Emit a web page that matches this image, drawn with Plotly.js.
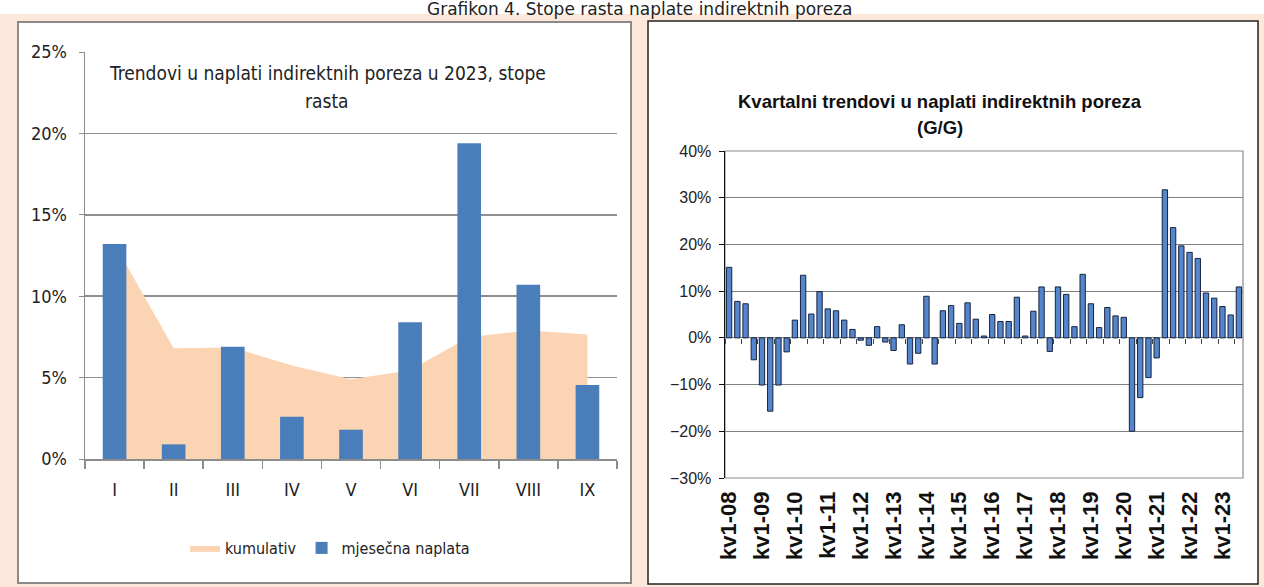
<!DOCTYPE html>
<html><head><meta charset="utf-8">
<script src="https://cdn.plot.ly/plotly-3.0.1.min.js"></script>
<style>html,body{margin:0;padding:0;background:#fff;overflow:hidden}#chart{width:1264px;height:587px}</style>
</head><body><div id="chart"></div>
<script>
// ---- Left chart data (2023, monthly) ----
const months = ["I","II","III","IV","V","VI","VII","VIII","IX"];
const monthlyCollection = [13.2, 0.9, 6.9, 2.6, 1.8, 8.4, 19.4, 10.7, 4.55];
const cumulative = [13.2, 6.8, 6.85, 5.75, 4.9, 5.45, 7.5, 7.9, 7.65];

// ---- Right chart data (quarterly, y/y) ----
const quarters = [
 "kv1-08","kv2-08","kv3-08","kv4-08","kv1-09","kv2-09","kv3-09","kv4-09",
 "kv1-10","kv2-10","kv3-10","kv4-10","kv1-11","kv2-11","kv3-11","kv4-11",
 "kv1-12","kv2-12","kv3-12","kv4-12","kv1-13","kv2-13","kv3-13","kv4-13",
 "kv1-14","kv2-14","kv3-14","kv4-14","kv1-15","kv2-15","kv3-15","kv4-15",
 "kv1-16","kv2-16","kv3-16","kv4-16","kv1-17","kv2-17","kv3-17","kv4-17",
 "kv1-18","kv2-18","kv3-18","kv4-18","kv1-19","kv2-19","kv3-19","kv4-19",
 "kv1-20","kv2-20","kv3-20","kv4-20","kv1-21","kv2-21","kv3-21","kv4-21",
 "kv1-22","kv2-22","kv3-22","kv4-22","kv1-23","kv2-23","kv3-23"];
const quarterly = [
 15.1, 7.8, 7.3, -4.7,  -10.1, -15.7, -10.1, -3.0,
 3.8, 13.4, 5.1, 9.9,   6.2, 5.8, 3.8, 1.8,
 -0.5, -1.6, 2.4, -0.9, -2.7, 2.8, -5.6, -3.3,
 8.9, -5.6, 5.8, 6.9,   3.1, 7.5, 4.0, 0.4,
 5.0, 3.5, 3.5, 8.7,    0.4, 5.7, 10.9, -2.9,
 10.9, 9.3, 2.4, 13.6,  7.3, 2.2, 6.5, 4.7,
 4.4, -20.0, -12.8, -8.5, -4.3, 31.7, 23.6, 19.7,
 18.3, 17.0, 9.6, 8.5,  6.7, 4.9, 10.9];
const quarterTickLabels = quarters.filter(q => q.startsWith("kv1"));

const pageTitle = "Grafikon 4. Stope rasta naplate indirektnih poreza";
const leftTitle1 = "Trendovi u naplati indirektnih poreza u 2023, stope";
const leftTitle2 = "rasta";
const rightTitle1 = "Kvartalni trendovi u naplati indirektnih poreza";
const rightTitle2 = "(G/G)";

const W = 1264, H = 587;
const px = x => x / W;
const py = y => 1 - y / H;

const NARROW = "DejaVu Sans Condensed, Liberation Sans Narrow, sans-serif";
const ARIAL = "Liberation Sans, Arial, sans-serif";

const rY0 = py(478), rY1 = py(151);
const zeroPos = rY0 + (0 - (-30)) / 70 * (rY1 - rY0);

const traces = [
  { type: "scatter", x: months, y: cumulative, name: "kumulativ",
    mode: "lines", fill: "tozeroy", fillcolor: "#FBD4B4",
    line: { width: 0, color: "#FBD4B4" }, xaxis: "x", yaxis: "y", hoverinfo: "x+y" },
  { type: "bar", x: months, y: monthlyCollection, name: "mjesečna naplata",
    marker: { color: "#4A7EBB" }, width: 0.4, xaxis: "x3", yaxis: "y3" },
  { type: "bar", x: quarters, y: quarterly, name: "kvartalno", showlegend: false,
    marker: { color: "#5586CC", line: { color: "#17233f", width: 1 } },
    xaxis: "x2", yaxis: "y2" },
  { type: "bar", x: quarters, y: quarterly, showlegend: false, hoverinfo: "skip",
    marker: { color: "rgba(0,0,0,0)" }, xaxis: "x4", yaxis: "y2" }
];

const layout = {
  width: W, height: H,
  margin: { l: 0, r: 0, t: 0, b: 0 },
  paper_bgcolor: "#ffffff",
  plot_bgcolor: "rgba(0,0,0,0)",
  showlegend: true,
  bargap: 0.35,
  legend: { orientation: "h", x: px(330), xanchor: "center", y: py(548), yanchor: "middle",
    font: { family: NARROW, size: 16, color: "#222" }, bgcolor: "rgba(0,0,0,0)",
    traceorder: "normal", itemwidth: 30 },
  xaxis: { domain: [px(85), px(617)], anchor: "y", type: "category", categoryarray: months,
    range: [-0.5, 8.5], showgrid: false, showline: true, linecolor: "#8c8c8c", linewidth: 1.5,
    ticks: "outside", tickson: "boundaries", ticklen: 8, tickcolor: "#8c8c8c", tickwidth: 1.5,
    tickfont: { family: NARROW, size: 18, color: "#222" }, ticklabelstandoff: 14, fixedrange: true },
  yaxis: { domain: [py(459), py(52)], anchor: "x", range: [0, 25], dtick: 5, ticksuffix: "%",
    showgrid: true, gridcolor: "#8f8f8f", gridwidth: 1.5, zeroline: false,
    showline: true, linecolor: "#8c8c8c", linewidth: 1.5, ticks: "outside", ticklen: 5,
    tickcolor: "#8c8c8c", tickfont: { family: NARROW, size: 18, color: "#222" },
    ticklabelstandoff: 8, fixedrange: true },
  xaxis3: { overlaying: "x", anchor: "y3", type: "category", categoryarray: months,
    range: [-0.5, 8.5], visible: false, fixedrange: true },
  yaxis3: { overlaying: "y", anchor: "x3", range: [0, 25], visible: false, fixedrange: true },

  xaxis2: { domain: [px(725), px(1243)], anchor: "y2", type: "category", categoryarray: quarters,
    range: [-0.5, 62.5], tickmode: "array", tickvals: quarterTickLabels, ticktext: quarterTickLabels,
    tickangle: -90, ticks: "", showgrid: false, showline: false, zeroline: false,
    tickfont: { family: ARIAL, size: 22, color: "#111", weight: "bold" },
    ticklabelstandoff: 8, fixedrange: true },
  yaxis2: { domain: [rY0, rY1], anchor: "x2", range: [-30, 40], dtick: 10, ticksuffix: "%",
    showgrid: true, gridcolor: "#808080", gridwidth: 1.2, zeroline: false,
    showline: true, linecolor: "#111", linewidth: 1.5, ticks: "outside", ticklen: 5,
    tickcolor: "#111", tickfont: { family: ARIAL, size: 16, color: "#222" },
    ticklabelstandoff: 4, fixedrange: true },
  xaxis4: { overlaying: "x2", anchor: "free", position: zeroPos, type: "category",
    categoryarray: quarters, range: [-0.5, 62.5], showgrid: false, showline: false,
    zeroline: false, showticklabels: false, ticks: "outside", tickson: "boundaries",
    ticklen: 5, tickcolor: "#444", tickwidth: 1, fixedrange: true },

  shapes: [
    { type: "rect", xref: "paper", yref: "paper", x0: 0, x1: 1, y0: 0, y1: py(14),
      fillcolor: "#FCE8DA", line: { width: 0 }, layer: "below" },
    { type: "rect", xref: "paper", yref: "paper", x0: px(18), x1: px(631), y0: py(583), y1: py(22),
      fillcolor: "#ffffff", line: { color: "#8a8a8a", width: 2 }, layer: "below" },
    { type: "rect", xref: "paper", yref: "paper", x0: px(648), x1: px(1258), y0: py(584), y1: py(21),
      fillcolor: "#ffffff", line: { color: "#222", width: 1.5 }, layer: "below" },
    { type: "rect", xref: "paper", yref: "paper", x0: px(725), x1: px(1243), y0: rY0, y1: rY1,
      fillcolor: "rgba(0,0,0,0)", line: { color: "#8c8c8c", width: 1.2 }, layer: "below" }
  ],
  annotations: [
    { text: pageTitle, xref: "paper", yref: "paper", x: px(640), y: py(9), xanchor: "center",
      yanchor: "middle", showarrow: false, font: { family: "DejaVu Sans, sans-serif", size: 17, color: "#222" } },
    { text: leftTitle1, xref: "paper", yref: "paper", x: px(327), y: py(73), xanchor: "center",
      yanchor: "middle", showarrow: false, font: { family: NARROW, size: 19, color: "#222" } },
    { text: leftTitle2, xref: "paper", yref: "paper", x: px(327), y: py(101), xanchor: "center",
      yanchor: "middle", showarrow: false, font: { family: NARROW, size: 19, color: "#222" } },
    { text: rightTitle1, xref: "paper", yref: "paper", x: px(940), y: py(101), xanchor: "center",
      yanchor: "middle", showarrow: false, font: { family: ARIAL, size: 18.5, color: "#111", weight: "bold" } },
    { text: rightTitle2, xref: "paper", yref: "paper", x: px(940), y: py(128), xanchor: "center",
      yanchor: "middle", showarrow: false, font: { family: ARIAL, size: 18.5, color: "#111", weight: "bold" } }
  ]
};

Plotly.newPlot("chart", traces, layout, { staticPlot: true, displayModeBar: false });
</script>
</body></html>
